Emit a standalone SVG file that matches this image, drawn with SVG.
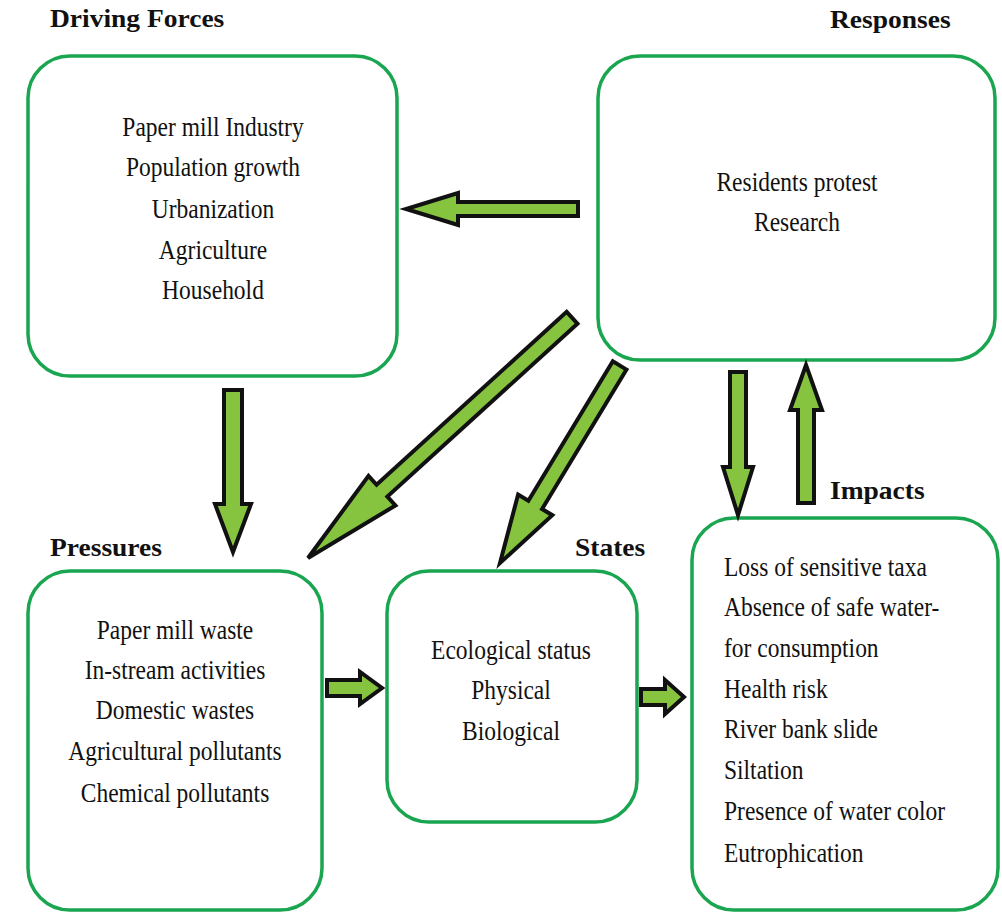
<svg xmlns="http://www.w3.org/2000/svg" width="1002" height="912" viewBox="0 0 1002 912">
<defs>
<style>
.box{fill:#fff;stroke:#1aa550;stroke-width:3.5}
.t{font-family:'Liberation Serif','Times New Roman',serif;font-size:23.5px;fill:#111}
.c{text-anchor:middle}
.h{font-family:'Liberation Serif','Times New Roman',serif;font-size:27.5px;font-weight:bold;fill:#111}
.arr{fill:#86c440;stroke:#111;stroke-width:4;stroke-linejoin:miter}
</style>
</defs>
<rect width="1002" height="912" fill="#fff"/>
<g id="driving">
<rect class="box" x="28" y="56" width="369" height="320" rx="42"/>
<text class="h" transform="translate(50,27) scale(1,0.94)">Driving Forces</text>
<text class="t c" transform="translate(213,136) scale(1,1.15)">Paper mill Industry</text>
<text class="t c" transform="translate(213,176) scale(1,1.15)">Population growth</text>
<text class="t c" transform="translate(213,218) scale(1,1.15)">Urbanization</text>
<text class="t c" transform="translate(213,259) scale(1,1.15)">Agriculture</text>
<text class="t c" transform="translate(213,299) scale(1,1.15)">Household</text>
</g>
<g id="responses">
<rect class="box" x="598" y="56" width="397" height="304" rx="42"/>
<text class="h" transform="translate(830,28) scale(1,0.94)">Responses</text>
<text class="t c" transform="translate(797,191) scale(1,1.15)">Residents protest</text>
<text class="t c" transform="translate(797,231) scale(1,1.15)">Research</text>
</g>
<g id="pressures">
<rect class="box" x="28" y="571" width="294" height="339" rx="42"/>
<text class="h" transform="translate(50,556) scale(1,0.94)">Pressures</text>
<text class="t c" transform="translate(175,639) scale(1,1.15)">Paper mill waste</text>
<text class="t c" transform="translate(175,679) scale(1,1.15)">In-stream activities</text>
<text class="t c" transform="translate(175,719) scale(1,1.15)">Domestic wastes</text>
<text class="t c" transform="translate(175,760) scale(1,1.15)">Agricultural pollutants</text>
<text class="t c" transform="translate(175,802) scale(1,1.15)">Chemical pollutants</text>
</g>
<g id="states">
<rect class="box" x="387" y="571" width="250" height="251" rx="42"/>
<text class="h" transform="translate(575,556) scale(1,0.94)">States</text>
<text class="t c" transform="translate(511,659) scale(1,1.15)">Ecological status</text>
<text class="t c" transform="translate(511,699) scale(1,1.15)">Physical</text>
<text class="t c" transform="translate(511,740) scale(1,1.15)">Biological</text>
</g>
<g id="impacts">
<rect class="box" x="692" y="518" width="306" height="392" rx="42"/>
<text class="h" transform="translate(830,499) scale(1,0.94)">Impacts</text>
<text class="t" transform="translate(724,576) scale(1,1.15)">Loss of sensitive taxa</text>
<text class="t" transform="translate(724,616) scale(1,1.15)">Absence of safe water-</text>
<text class="t" transform="translate(724,657) scale(1,1.15)">for consumption</text>
<text class="t" transform="translate(724,698) scale(1,1.15)">Health risk</text>
<text class="t" transform="translate(724,738) scale(1,1.15)">River bank slide</text>
<text class="t" transform="translate(724,779) scale(1,1.15)">Siltation</text>
<text class="t" transform="translate(724,820) scale(1,1.15)">Presence of water color</text>
<text class="t" transform="translate(724,862) scale(1,1.15)">Eutrophication</text>
</g>
<g id="connectors">
<polygon class="arr" transform="translate(406,209) rotate(180)" points="-172,-7 -52,-7 -52,-16 0,0 -52,16 -52,7 -172,7"/>
<polygon class="arr" transform="translate(233,552) rotate(90)" points="-162,-9 -48,-9 -48,-18 0,0 -48,18 -48,9 -162,9"/>
<polygon class="arr" transform="translate(308,558) rotate(137.7)" points="-357,-8 -100,-8 -100,-20 0,0 -100,20 -100,8 -357,8"/>
<polygon class="arr" transform="translate(500,563) rotate(121.2)" points="-231,-8 -68,-8 -68,-20 0,0 -68,20 -68,8 -231,8"/>
<polygon class="arr" transform="translate(738,515) rotate(90)" points="-143,-8 -48,-8 -48,-15 0,0 -48,15 -48,8 -143,8"/>
<polygon class="arr" transform="translate(806,365) rotate(-90)" points="-138,-8 -45,-8 -45,-16 0,0 -45,16 -45,8 -138,8"/>
<polygon class="arr" transform="translate(382,688) rotate(0)" points="-55,-8 -22,-8 -22,-16 0,0 -22,16 -22,8 -55,8"/>
<polygon class="arr" transform="translate(684,697) rotate(0)" points="-43,-8 -19,-8 -19,-17 0,0 -19,17 -19,8 -43,8"/>
</g>
</svg>
